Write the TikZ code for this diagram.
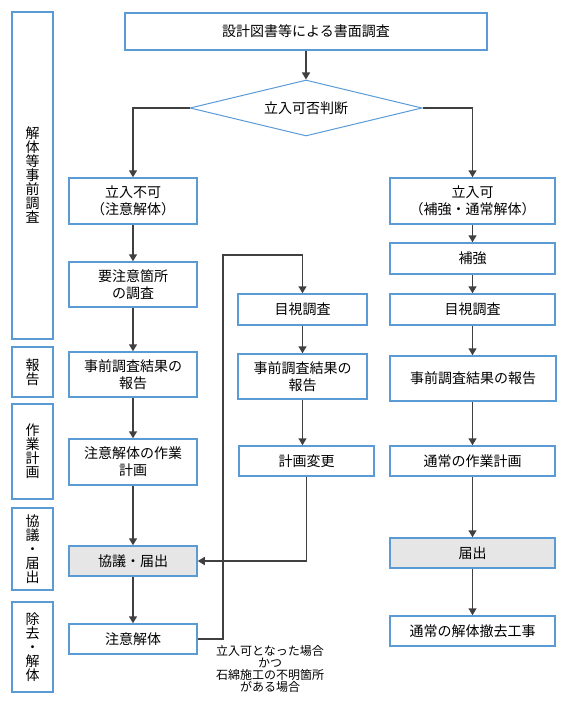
\documentclass[tikz,border=0pt]{standalone}
\usepackage{fontspec}
\setmainfont{Noto Sans CJK JP}
\usetikzlibrary{arrows.meta,positioning,shapes.geometric,calc}
\definecolor{boxblue}{RGB}{91,155,213}
\definecolor{linegray}{RGB}{64,64,64}
\definecolor{notegray}{RGB}{230,230,230}
\tikzset{
    flowbox/.style={draw=boxblue, line width=1.5pt, fill=white, align=center, inner sep=0pt,
        font=\fontsize{14}{17}\selectfont},
    sidebox/.style={flowbox, font=\fontsize{14}{14}\selectfont},
    boxsize/.style 2 args={minimum width=#1pt, minimum height=#2pt},
    flowline/.style={draw=linegray, line width=1.5pt, -{Triangle[length=7pt, width=8pt]}},
}

\begin{document}
\begin{tikzpicture}[x=1pt, y=-1pt]
    \useasboundingbox (0,0) rectangle (572,706);

    % side labels
    \node[sidebox, boxsize={41}{327}] (lab_survey) at (32.5,175.5) {解\\体\\等\\事\\前\\調\\査};
    \node[sidebox, boxsize={41}{50}] (lab_report) at (32.5,372) {報\\告};
    \node[sidebox, boxsize={41}{95}] (lab_plan) at (32.5,451.5) {作\\業\\計\\画};
    \node[sidebox, boxsize={41}{82}] (lab_notice) at (32.5,549) {協\\議\\・\\届\\出};
    \node[sidebox, boxsize={41}{90}] (lab_remove) at (32.5,647) {除\\去\\・\\解\\体};

    % top
    \node[flowbox, boxsize={362}{37}] (survey) at (306,31.5) {設計図書等による書面調査};
    \node[flowbox, diamond, aspect=4.1, line width=1pt, boxsize={232}{56}] (judge) at (306,108) {立入可否判断};

    % left column
    \node[flowbox, boxsize={128}{46}] (no_entry) at (133,201) {立入不可\\（注意解体）};
    \node[flowbox, boxsize={128}{45}] (caution_survey) at (133,284.5) {要注意箇所\\の調査};
    \node[flowbox, boxsize={128}{45}] (left_report) at (133,374.5) {事前調査結果の\\報告};
    \node[flowbox, boxsize={128}{46}] (caution_plan) at (133,462) {注意解体の作業\\計画};
    \node[flowbox, fill=notegray, boxsize={128}{30}] (left_notice) at (133,561) {協議・届出};
    \node[flowbox, boxsize={128}{30}] (caution_demo) at (133,639) {注意解体};

    % middle column
    \node[flowbox, boxsize={129}{31}] (mid_visual) at (302.5,309.5) {目視調査};
    \node[flowbox, boxsize={129}{45}] (mid_report) at (302.5,376.5) {事前調査結果の\\報告};
    \node[flowbox, boxsize={135}{30}] (plan_change) at (306.5,461) {計画変更};
    \node[align=center, font=\fontsize{12}{12}\selectfont] (cond_note) at (270,669)
        {立入可となった場合\\かつ\\石綿施工の不明箇所\\がある場合};

    % right column
    \node[flowbox, boxsize={165}{46}] (entry_ok) at (472.5,201) {立入可\\（補強・通常解体）};
    \node[flowbox, boxsize={165}{31}] (reinforce) at (472.5,258.5) {補強};
    \node[flowbox, boxsize={165}{31}] (right_visual) at (472.5,309.5) {目視調査};
    \node[flowbox, boxsize={166}{45}] (right_report) at (473,378.5) {事前調査結果の報告};
    \node[flowbox, boxsize={165}{30}] (normal_plan) at (472.5,461) {通常の作業計画};
    \node[flowbox, fill=notegray, boxsize={165}{30}] (right_notice) at (472.5,553) {届出};
    \node[flowbox, boxsize={165}{30}] (normal_demo) at (472.5,631) {通常の解体撤去工事};

    \coordinate (loop_corner) at (223,255);

    % connectors
    \draw[flowline] (survey) -- (judge);
    \draw[flowline] (judge.west) -| (no_entry.north);
    \draw[flowline] (judge.east) -| (entry_ok.north);

    \draw[flowline] (no_entry) -- (caution_survey);
    \draw[flowline] (caution_survey) -- (left_report);
    \draw[flowline] (left_report) -- (caution_plan);
    \draw[flowline] (caution_plan) -- (left_notice);
    \draw[flowline] (left_notice) -- (caution_demo);

    \draw[flowline] (caution_demo.east) -| (loop_corner) -| (mid_visual.north);
    \draw[flowline] (mid_visual) -- (mid_report);
    \draw[flowline] (mid_report) -- (mid_report |- plan_change.north);
    \draw[flowline] (plan_change.south) |- (left_notice.east);

    \draw[flowline] (entry_ok) -- (reinforce);
    \draw[flowline] (reinforce) -- (right_visual);
    \draw[flowline] (right_visual) -- (right_visual |- right_report.north);
    \draw[flowline] (right_report.south -| normal_plan) -- (normal_plan);
    \draw[flowline] (normal_plan) -- (right_notice);
    \draw[flowline] (right_notice) -- (normal_demo);
\end{tikzpicture}
\end{document}
